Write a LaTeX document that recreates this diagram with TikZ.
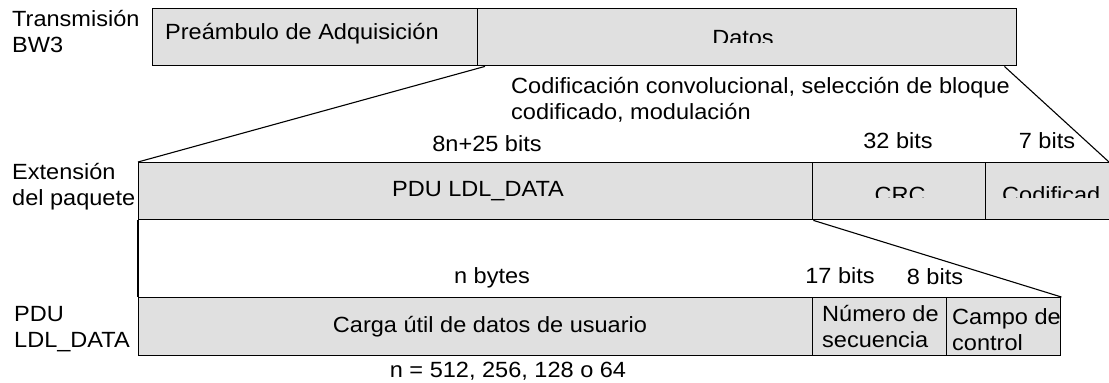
\documentclass[tikz,border=0pt]{standalone}
\usepackage{fontspec}
\setmainfont{Liberation Sans}[FakeStretch=1.07]
\usetikzlibrary{positioning,calc}
\definecolor{fieldgray}{RGB}{224,224,224}
\tikzset{
  every node/.style={font=\fontsize{22}{26}\selectfont},
  field/.style={draw,line width=1.4pt,fill=fieldgray,inner sep=0pt,anchor=north west,minimum height=57pt},
  lbl/.style={inner sep=0pt,anchor=base west,align=left},
  bits/.style={inner sep=0pt,anchor=base},
  link/.style={line width=1.1pt}
}

\begin{document}
\begin{tikzpicture}[x=1pt,y=-1pt]
  \useasboundingbox (0,0) rectangle (1109,383);
  % row 1: BW3 transmission (multi-line labels sit on their last baseline)
  \node[lbl] (lblBW) at (12,52) {Transmisión\\BW3};
  \node[field,minimum width=325pt] (pream) at (152,8) {};
  \node[field,minimum width=539pt] (datos) at (477,8) {};
  \node[lbl] (txtPream) at (165,39) {Preámbulo de Adquisición};
  \begin{scope}
    \clip (477,8) rectangle (1016,42);
    \node[bits] (txtDatos) at (743,45) {Datos};
  \end{scope}
  \node[lbl] (txtCod) at (511,119) {Codificación convolucional, selección de bloque\\codificado, modulación};
  % row 2: packet extension
  \node[bits] (b825) at (487,151) {8n+25 bits};
  \node[bits] (b32) at (898,148) {32 bits};
  \node[bits] (b7) at (1047,148) {7 bits};
  \node[lbl] (lblExt) at (12,205) {Extensión\\del paquete};
  \node[field,minimum width=674pt] (pduData) at (138,162) {};
  \node[field,minimum width=173pt] (crc) at (812,162) {};
  \node[field,minimum width=130pt] (codif) at (985,162) {};
  \coordinate (edgeR) at (1109,162);
  \node[bits] (txtPdu) at (478,196) {PDU LDL\_DATA};
  \begin{scope}
    \clip (812,162) rectangle (1109,197);
    \node[bits] (txtCrc) at (900,202) {CRC};
    \node[lbl] (txtCodif) at (1002,202) {Codificad};
  \end{scope}
  % row 3: PDU LDL_DATA
  \node[bits] (bn) at (492,283) {n bytes};
  \node[bits] (b17) at (840,283) {17 bits};
  \node[bits] (b8) at (935,284) {8 bits};
  \node[lbl] (lblPdu) at (14,347) {PDU\\LDL\_DATA};
  \node[field,minimum width=674pt,minimum height=58pt] (carga) at (138,297) {};
  \node[field,minimum width=134pt,minimum height=58pt] (numSeq) at (812,297) {};
  \node[field,minimum width=114pt,minimum height=58pt] (campo) at (946,297) {};
  \node[bits] (txtCarga) at (490,332) {Carga útil de datos de usuario};
  \node[lbl] (txtSeq) at (822,347) {Número de\\secuencia};
  \node[lbl] (txtCampo) at (952,350) {Campo de\\control};
  \node[bits] (txtN) at (508,377) {n = 512, 256, 128 o 64};
  % expansion lines
  \draw[link] ([xshift=8pt]datos.south west) -- (pduData.north west);
  \draw[link] ([xshift=-13pt]datos.south east) -- (edgeR);
  \draw[link] (pduData.south west) -- (carga.north west);
  \draw[link] (pduData.south east) -- (campo.north east);
\end{tikzpicture}
\end{document}
